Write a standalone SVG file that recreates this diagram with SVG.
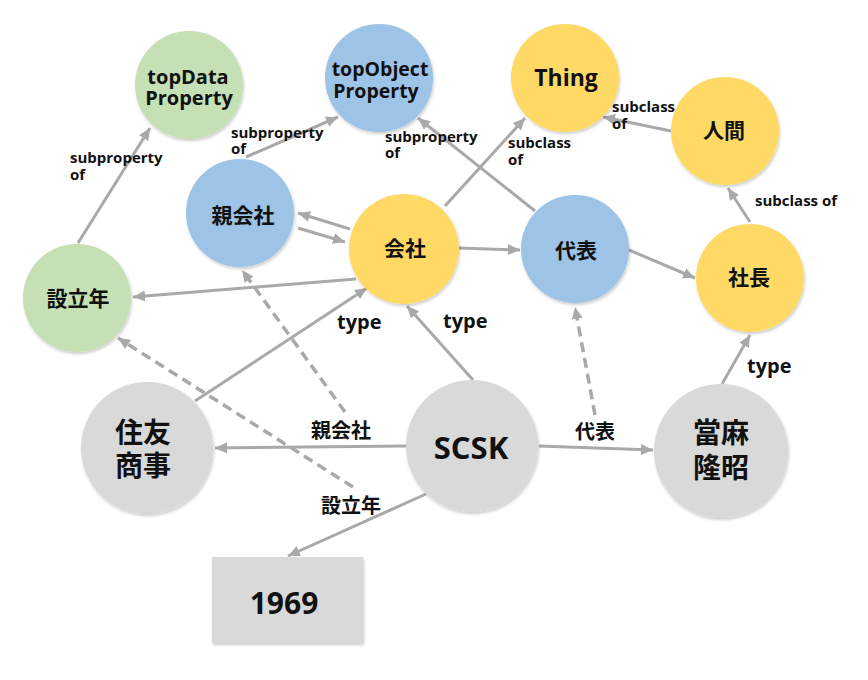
<svg xmlns="http://www.w3.org/2000/svg" width="868" height="680" viewBox="0 0 868 680">
<style>
.n text{font-family:"Open Sans","Noto Sans CJK JP",sans-serif;font-weight:700;fill:#111;text-anchor:middle}
.lbl{font-family:"Open Sans","Noto Sans CJK JP",sans-serif;font-weight:700;fill:#111}
.sm{font-size:15px}
.ty{font-size:20px}
.jl{font-size:20px;text-anchor:middle}
.e line{stroke:#a9a9a9;stroke-width:3;fill:none;marker-end:url(#ah)}
.e line.d{stroke-width:3.5;stroke-dasharray:10 6}
.g{fill:#c5e0b4}.b{fill:#9dc3e6}.y{fill:#ffd966}.k{fill:#d9d9d9}
.n circle,.n rect{filter:url(#sh)}
</style>
<defs>
<marker id="ah" markerUnits="userSpaceOnUse" markerWidth="13" markerHeight="11" refX="12" refY="5.5" orient="auto">
<path d="M0,0 L12,5.5 L0,11 z" fill="#a9a9a9"/>
</marker>
<filter id="sh" x="-20%" y="-20%" width="140%" height="140%">
<feDropShadow dx="1" dy="2" stdDeviation="1.5" flood-color="#000" flood-opacity="0.2"/>
</filter>
</defs>
<rect width="868" height="680" fill="#fff"/>

<g id="connectors" class="e">
<line x1="78" y1="243" x2="150" y2="128"/>
<line x1="246" y1="157" x2="338" y2="117"/>
<line x1="535" y1="211" x2="418" y2="118"/>
<line x1="445" y1="206" x2="525" y2="118"/>
<line x1="671" y1="131" x2="603" y2="117"/>
<line x1="750" y1="222" x2="728" y2="188"/>
<line x1="350" y1="229" x2="298" y2="213"/>
<line x1="298" y1="228" x2="345" y2="242"/>
<line x1="356" y1="279" x2="133" y2="297"/>
<line x1="459" y1="248" x2="520" y2="250"/>
<line x1="629" y1="250" x2="695" y2="278"/>
<line x1="195" y1="401" x2="367" y2="288"/>
<line x1="473" y1="380" x2="407" y2="306"/>
<line x1="722" y1="384" x2="750" y2="335"/>
<line x1="406" y1="446" x2="215" y2="448"/>
<line x1="539" y1="446" x2="653" y2="450"/>
<line x1="426" y1="494" x2="288" y2="556"/>
<line class="d" x1="345" y1="412" x2="242" y2="270"/>
<line class="d" x1="595" y1="415" x2="575" y2="307"/>
<line class="d" x1="353" y1="487" x2="118" y2="338"/>
</g>

<g id="edge-labels" class="lbl">
<text class="sm" x="70" y="163">subproperty</text>
<text class="sm" x="70" y="180">of</text>
<text class="sm" x="231" y="138">subproperty</text>
<text class="sm" x="231" y="154">of</text>
<text class="sm" x="385" y="142">subproperty</text>
<text class="sm" x="385" y="158">of</text>
<text class="sm" x="508" y="148">subclass</text>
<text class="sm" x="508" y="165">of</text>
<text class="sm" x="612" y="112">subclass</text>
<text class="sm" x="612" y="129">of</text>
<text class="sm" x="755" y="206">subclass of</text>
<text class="ty" x="337" y="329">type</text>
<text class="ty" x="443" y="328">type</text>
<text class="ty" x="747" y="373">type</text>
<text class="jl" x="341" y="438">親会社</text>
<text class="jl" x="595" y="439">代表</text>
<text class="jl" x="351" y="513">設立年</text>
</g>

<g id="topDataProperty" class="n"><circle class="g" cx="189" cy="85" r="54"/><text x="188" y="84" font-size="20">topData</text><text x="189" y="105" font-size="20">Property</text></g>
<g id="topObjectProperty" class="n"><circle class="b" cx="379" cy="78" r="54"/><text x="380" y="76" font-size="19.5">topObject</text><text x="376" y="98" font-size="19.5">Property</text></g>
<g id="Thing" class="n"><circle class="y" cx="565" cy="78" r="54"/><text x="566" y="86" font-size="23">Thing</text></g>
<g id="ningen" class="n"><circle class="y" cx="725" cy="131" r="54"/><text x="724" y="138" font-size="21">人間</text></g>
<g id="oyagaisha" class="n"><circle class="b" cx="240" cy="213" r="54"/><text x="243" y="223" font-size="21">親会社</text></g>
<g id="kaisha" class="n"><circle class="y" cx="404" cy="249" r="55"/><text x="405" y="256" font-size="21">会社</text></g>
<g id="daihyo" class="n"><circle class="b" cx="575" cy="249" r="54"/><text x="576" y="258" font-size="21">代表</text></g>
<g id="shacho" class="n"><circle class="y" cx="750" cy="278" r="54"/><text x="749" y="285" font-size="21">社長</text></g>
<g id="setsuritsunen" class="n"><circle class="g" cx="77" cy="298" r="54"/><text x="78" y="306" font-size="21">設立年</text></g>
<g id="sumitomo" class="n"><circle class="k" cx="147" cy="448" r="66"/><text x="143" y="443" font-size="28">住友</text><text x="143" y="476" font-size="28">商事</text></g>
<g id="SCSK" class="n"><circle class="k" cx="472" cy="446" r="66"/><text x="471" y="459" font-size="31">SCSK</text></g>
<g id="taima" class="n"><circle class="k" cx="721" cy="451" r="67"/><text x="721" y="443" font-size="28">當麻</text><text x="721" y="478" font-size="28">隆昭</text></g>
<g id="y1969" class="n"><rect class="k" x="212" y="557" width="151" height="86"/><text x="284" y="614" font-size="30">1969</text></g>
</svg>
